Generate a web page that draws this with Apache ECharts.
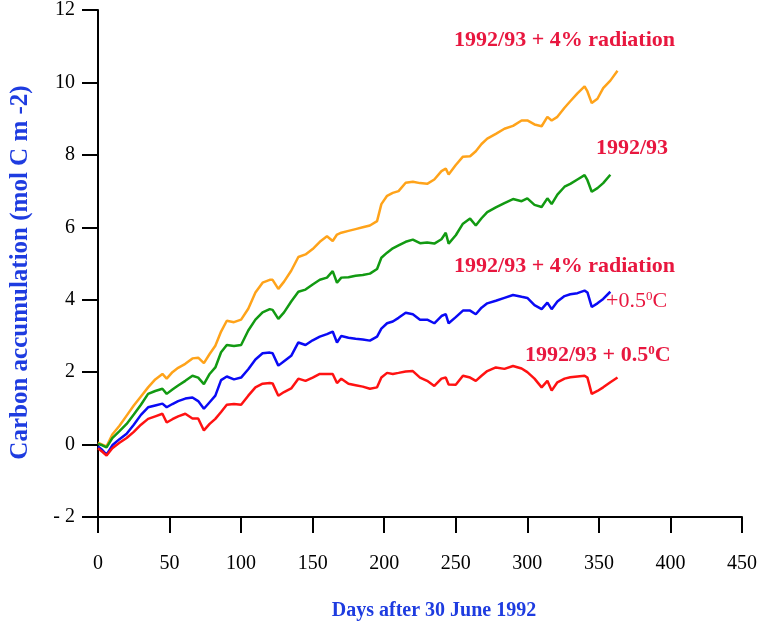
<!DOCTYPE html>
<html>
<head>
<meta charset="utf-8">
<script src="https://cdn.jsdelivr.net/npm/echarts@6/dist/echarts.min.js"></script>
<style>
  html, body { margin: 0; padding: 0; background: #fff; }
  #chart { width: 762px; height: 630px; }
</style>
</head>
<body>
<div id="chart"></div>
<script>
// days after 30 June 1992 (common sampling for all four runs)
const days = [0, 3, 6, 10, 15, 20, 25, 30, 35, 40, 45, 48, 52, 56, 61, 66, 70, 74, 78, 82,
  86, 90, 95, 100, 105, 110, 115, 120, 122, 126, 130, 135, 140, 145, 150, 155, 160, 164, 167, 170,
  175, 180, 185, 190, 195, 198, 202, 206, 210, 215, 220, 225, 230, 235, 240, 243, 245, 250, 255, 260,
  264, 268, 272, 278, 284, 290, 296, 300, 305, 310, 314, 317, 321, 326, 330, 335, 340, 342, 345, 349,
  353, 358, 363]

// 1992/93 + 4% radiation
const radiation = [0.05, 0.0, -0.05, 0.28, 0.52, 0.8, 1.08, 1.33, 1.58, 1.8, 1.95, 1.82, 2.0, 2.12, 2.23, 2.38, 2.4, 2.25, 2.5, 2.73,
  3.12, 3.42, 3.38, 3.45, 3.75, 4.2, 4.47, 4.55, 4.55, 4.3, 4.5, 4.8, 5.18, 5.25, 5.4, 5.6, 5.75, 5.62, 5.8, 5.85,
  5.9, 5.95, 6.0, 6.05, 6.17, 6.64, 6.87, 6.95, 7.0, 7.23, 7.26, 7.22, 7.2, 7.32, 7.55, 7.62, 7.46, 7.72, 7.95, 7.96,
  8.1, 8.3, 8.45, 8.58, 8.72, 8.8, 8.95, 8.95, 8.84, 8.79, 9.05, 8.95, 9.05, 9.3, 9.48, 9.7, 9.89, 9.75, 9.43, 9.55,
  9.84, 10.05, 10.32]

// 1992/93
const baseline = [0.02, -0.02, -0.08, 0.18, 0.37, 0.57, 0.83, 1.1, 1.4, 1.48, 1.54, 1.4, 1.52, 1.63, 1.76, 1.9, 1.85, 1.67, 1.95, 2.13,
  2.55, 2.75, 2.72, 2.75, 3.15, 3.45, 3.65, 3.74, 3.72, 3.47, 3.65, 3.95, 4.22, 4.28, 4.42, 4.55, 4.61, 4.79, 4.47, 4.61,
  4.62, 4.66, 4.68, 4.72, 4.85, 5.16, 5.3, 5.42, 5.5, 5.6, 5.66, 5.56, 5.58, 5.55, 5.67, 5.85, 5.55, 5.78, 6.1, 6.24,
  6.05, 6.25, 6.42, 6.55, 6.67, 6.78, 6.72, 6.8, 6.62, 6.56, 6.8, 6.64, 6.9, 7.12, 7.2, 7.32, 7.44, 7.3, 6.98, 7.08,
  7.22, 7.45, null]

// 1992/93 + 4% radiation +0.5 C
const radTemp = [-0.05, -0.15, -0.28, -0.02, 0.15, 0.3, 0.55, 0.82, 1.03, 1.08, 1.13, 1.03, 1.12, 1.2, 1.27, 1.3, 1.2, 0.99, 1.17, 1.35,
  1.78, 1.88, 1.8, 1.85, 2.08, 2.35, 2.52, 2.54, 2.52, 2.18, 2.3, 2.45, 2.82, 2.75, 2.88, 2.98, 3.05, 3.12, 2.82, 3.0,
  2.95, 2.92, 2.9, 2.87, 2.98, 3.2, 3.35, 3.4, 3.5, 3.64, 3.6, 3.45, 3.45, 3.35, 3.55, 3.6, 3.35, 3.52, 3.7, 3.7,
  3.6, 3.78, 3.9, 3.97, 4.05, 4.13, 4.08, 4.05, 3.85, 3.74, 3.92, 3.74, 3.95, 4.1, 4.15, 4.18, 4.25, 4.2, 3.8, 3.9,
  4.02, 4.22, null]

// 1992/93 + 0.5 C
const temp = [-0.1, -0.2, -0.3, -0.1, 0.05, 0.18, 0.35, 0.55, 0.71, 0.78, 0.85, 0.61, 0.7, 0.78, 0.85, 0.72, 0.72, 0.39, 0.57, 0.71,
  0.9, 1.1, 1.12, 1.1, 1.35, 1.58, 1.68, 1.7, 1.69, 1.35, 1.45, 1.55, 1.82, 1.76, 1.85, 1.95, 1.95, 1.95, 1.7, 1.82,
  1.68, 1.64, 1.6, 1.54, 1.58, 1.85, 1.98, 1.95, 1.98, 2.02, 2.03, 1.85, 1.76, 1.62, 1.82, 1.85, 1.66, 1.65, 1.9, 1.85,
  1.76, 1.9, 2.03, 2.13, 2.09, 2.17, 2.1, 2.0, 1.82, 1.58, 1.76, 1.49, 1.72, 1.82, 1.86, 1.88, 1.9, 1.85, 1.4, 1.48,
  1.58, 1.72, 1.85]

const yTicks = [-2, 0, 2, 4, 6, 8, 10, 12]
const xTicks = [0, 50, 100, 150, 200, 250, 300, 350, 400, 450]

const serif = '"Liberation Serif", "DejaVu Serif", serif'
const labelRed = '#E8173F'
const titleBlue = '#1E3CE0'

function pairs(vals) {
  return days.map((d, i) => [d, vals[i]])
}

function lineSeries(name, vals, color) {
  return {
    name: name,
    type: 'line',
    data: pairs(vals),
    showSymbol: false,
    connectNulls: false,
    lineStyle: { color: color, width: 2.5 },
    itemStyle: { color: color },
    z: 3
  }
}

// red notes next to the curves
function note(text, x, y) {
  return {
    type: 'text',
    x: x,
    y: y,
    style: {
      text: text,
      font: 'bold 22px ' + serif,
      fill: labelRed,
      textAlign: 'right',
      textVerticalAlign: 'middle'
    }
  }
}

function degNote(head, x, y, weight) {
  return {
    type: 'text',
    x: x,
    y: y,
    style: {
      rich: {
        a: { font: weight + ' 22px ' + serif, fill: labelRed, lineHeight: 22 },
        s: { font: weight + ' 13px ' + serif, fill: labelRed, verticalAlign: 'top', lineHeight: 22, padding: [0, 0, 8, 0] }
      },
      text: '{a|' + head + '}{s|0}{a|C}'
    }
  }
}

const chart = echarts.init(document.getElementById('chart'))

chart.setOption({
  animation: false,
  backgroundColor: '#fff',
  grid: { left: 98, right: 20, top: 9, bottom: 113, containLabel: false },
  xAxis: {
    type: 'value',
    min: xTicks[0],
    max: xTicks[xTicks.length - 1],
    interval: 50,
    name: 'Days after 30 June 1992',
    nameLocation: 'middle',
    nameGap: 84,
    nameTextStyle: { fontFamily: serif, fontWeight: 'bold', fontSize: 20, color: titleBlue, padding: [0, 0, 0, 28] },
    axisLine: { onZero: false, lineStyle: { color: '#000', width: 2 } },
    axisTick: { show: true, inside: false, length: 16, lineStyle: { color: '#000', width: 2 } },
    axisLabel: { fontFamily: serif, fontSize: 20, color: '#000', margin: 37 },
    splitLine: { show: false }
  },
  yAxis: {
    type: 'value',
    min: yTicks[0],
    max: yTicks[yTicks.length - 1],
    interval: 2,
    name: 'Carbon accumulation (mol C m -2)',
    nameLocation: 'middle',
    nameGap: 65,
    nameTextStyle: { fontFamily: serif, fontWeight: 'bold', fontSize: 25, color: titleBlue, padding: [0, 18, 0, 0] },
    axisLine: { show: true, onZero: false, lineStyle: { color: '#000', width: 2 } },
    axisTick: { show: true, inside: false, length: 16, lineStyle: { color: '#000', width: 2 } },
    axisLabel: {
      fontFamily: serif, fontSize: 20, color: '#000', margin: 23,
      formatter: v => (v < 0 ? '- ' + Math.abs(v) : String(v))
    },
    splitLine: { show: false }
  },
  series: [
    lineSeries('1992/93 + 4% radiation', radiation, '#FFA31A'),
    lineSeries('1992/93', baseline, '#129A12'),
    lineSeries('1992/93 + 4% radiation +0.5C', radTemp, '#0A0AF5'),
    lineSeries('1992/93 + 0.5C', temp, '#FF1212')
  ],
  graphic: [
    note('1992/93 + 4% radiation', 675, 40),
    note('1992/93', 668, 148),
    note('1992/93 + 4% radiation', 675, 266),
    degNote('+0.5', 606, 290, 'normal'),
    degNote('1992/93 + 0.5', 525, 344, 'bold')
  ]
})

window.addEventListener('resize', () => chart.resize())
</script>
</body>
</html>
